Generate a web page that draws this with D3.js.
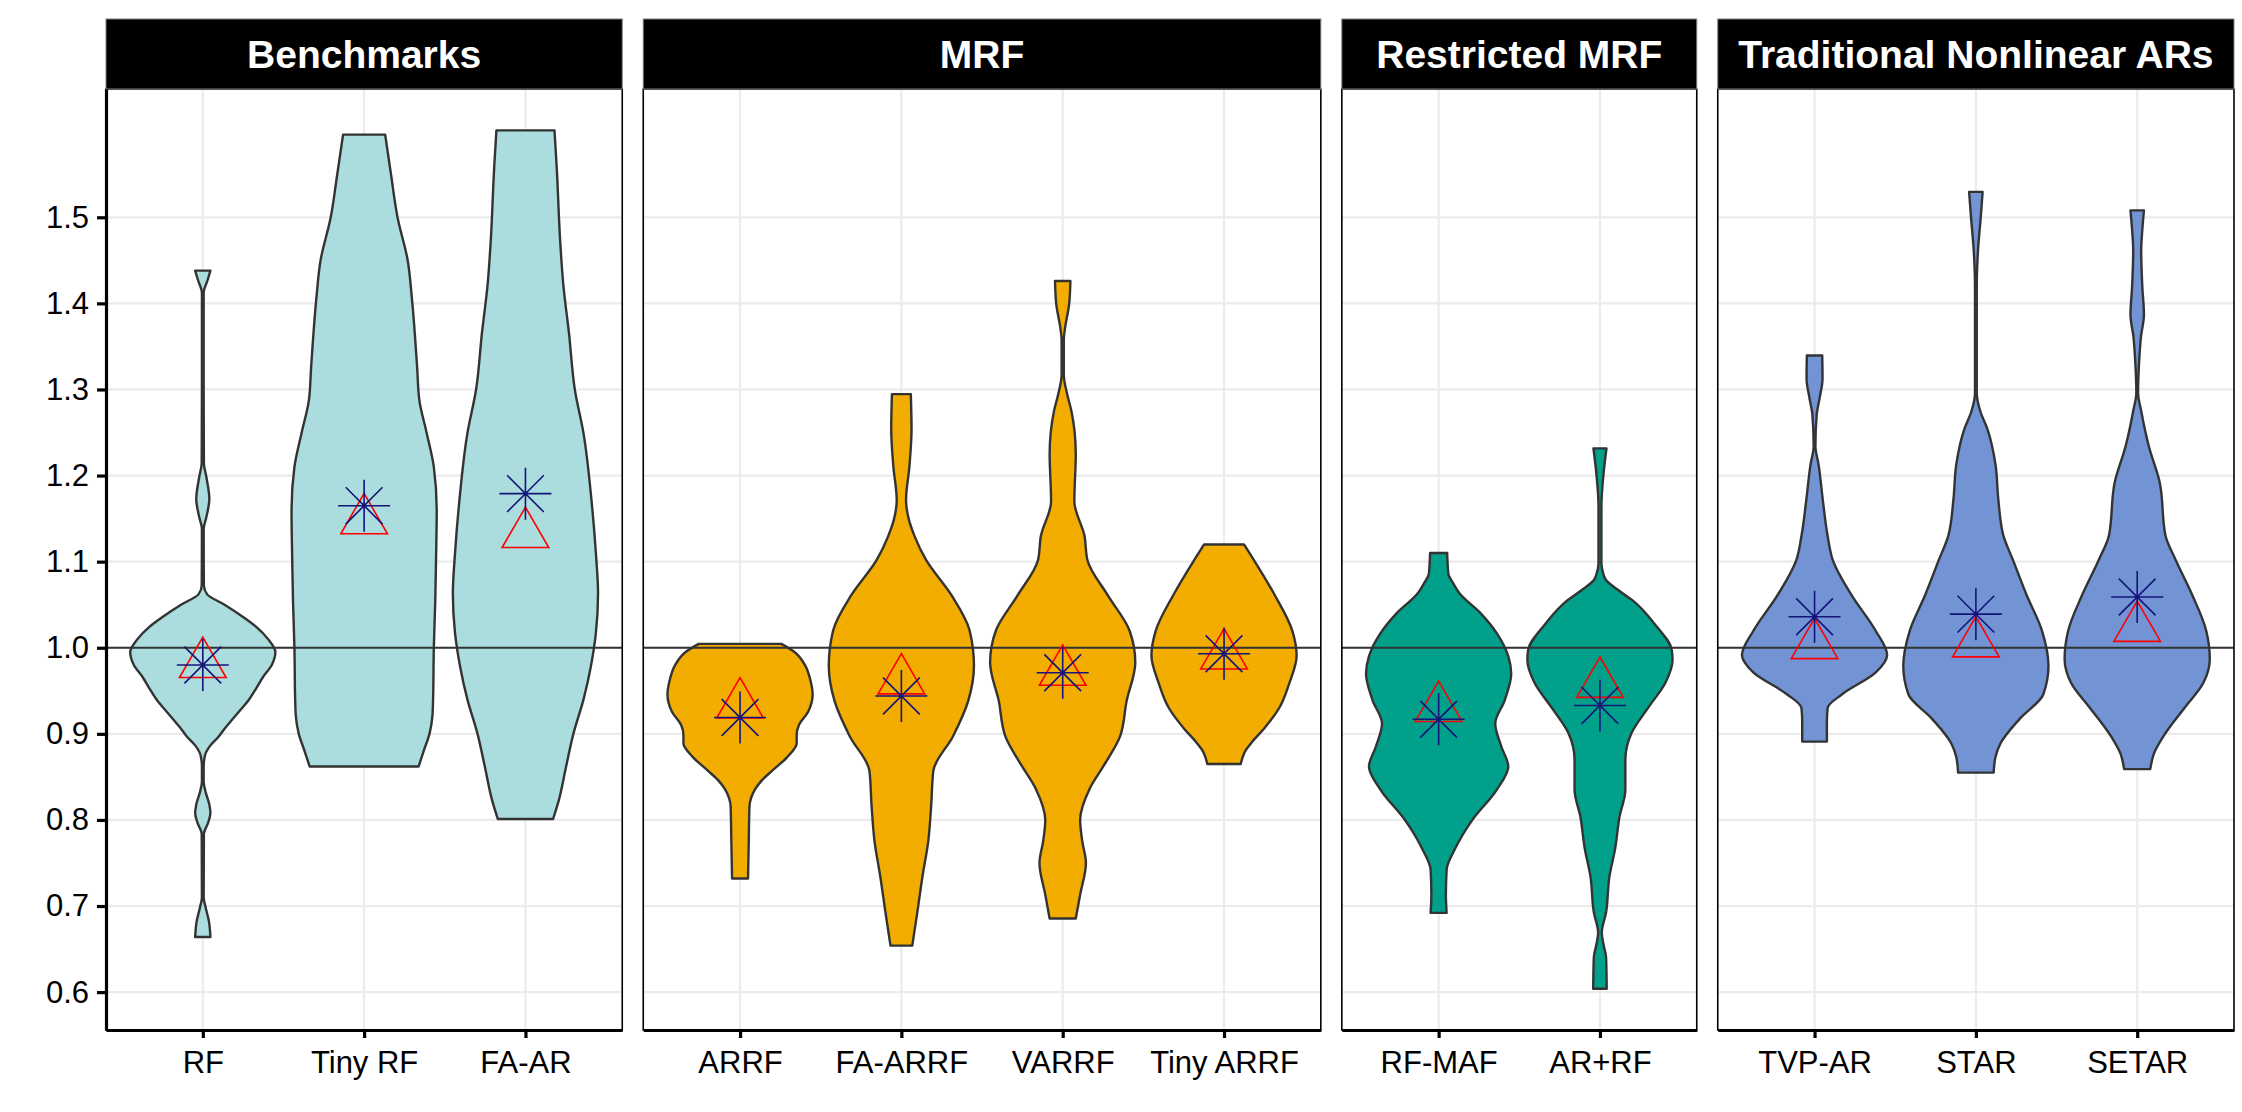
<!DOCTYPE html>
<html>
<head>
<meta charset="utf-8">
<script src="https://cdn.jsdelivr.net/npm/d3@7"></script>
<style>
  body { margin: 0; background: #fff; }
  text { font-family: "Liberation Sans", Arial, sans-serif; }
</style>
</head>
<body>
<svg id="chart" width="2242" height="1112"></svg>
<script>
// facets and the models inside each one
const panelNames = ["Benchmarks", "MRF", "Restricted MRF", "Traditional Nonlinear ARs"];
const panelModels = [
  ["RF", "Tiny RF", "FA-AR"],
  ["ARRF", "FA-ARRF", "VARRF", "Tiny ARRF"],
  ["RF-MAF", "AR+RF"],
  ["TVP-AR", "STAR", "SETAR"]
];
const panelFills = ["#ABDDDE", "#F2AD00", "#00A08A", "#7294D4"];
const yTicks = [0.6, 0.7, 0.8, 0.9, 1.0, 1.1, 1.2, 1.3, 1.4, 1.5];

// red triangle (mean) and navy asterisk (median), same order as the models
const models = ["RF", "Tiny RF", "FA-AR", "ARRF", "FA-ARRF", "VARRF", "Tiny ARRF",
                "RF-MAF", "AR+RF", "TVP-AR", "STAR", "SETAR"];
const triangleValues = [0.981, 1.148, 1.132, 0.934, 0.962, 0.972, 0.991, 0.930, 0.958, 1.003, 1.005, 1.023];
const starValues     = [0.980, 1.165, 1.179, 0.919, 0.944, 0.971, 0.993, 0.917, 0.933, 1.036, 1.039, 1.059];

// violin outlines: [value, relative half width], top to bottom
const rfDensity = [[1.438,0.105],[1.428,0.07],[1.412,0.012],[1.30,0.012],[1.215,0.015],[1.198,0.05],[1.173,0.09],
  [1.152,0.05],[1.138,0.012],[1.072,0.015],[1.062,0.06],[1.05,0.3],[1.036,0.55],[1.024,0.74],[1.01,0.9],[0.995,1.0],
  [0.98,0.95],[0.966,0.83],[0.952,0.73],[0.939,0.63],[0.926,0.5],[0.916,0.4],[0.906,0.3],[0.897,0.22],[0.886,0.1],
  [0.875,0.03],[0.862,0.012],[0.845,0.012],[0.832,0.04],[0.818,0.09],[0.808,0.105],[0.796,0.07],[0.784,0.015],
  [0.71,0.012],[0.698,0.04],[0.682,0.085],[0.664,0.105]];
const tinyRfDensity = [[1.596,0.29],[1.55,0.37],[1.5,0.46],[1.45,0.6],[1.404,0.66],[1.326,0.73],[1.288,0.76],
  [1.25,0.86],[1.21,0.96],[1.16,1.0],[1.1,0.99],[1.055,0.98],[1.0,0.96],[0.94,0.95],[0.92,0.94],[0.9,0.9],
  [0.88,0.82],[0.862,0.75]];
const faArDensity = [[1.601,0.40],[1.559,0.43],[1.47,0.48],[1.423,0.52],[1.365,0.6],[1.3,0.68],[1.249,0.8],
  [1.171,0.91],[1.11,0.97],[1.063,1.0],[1.017,0.97],[0.978,0.9],[0.94,0.8],[0.9,0.66],[0.862,0.56],[0.823,0.46],
  [0.801,0.38]];
const arrfDensity = [[1.0045,0.57],[0.995,0.75],[0.979,0.9],[0.962,0.97],[0.946,1.0],[0.926,0.94],[0.91,0.81],
  [0.899,0.78],[0.889,0.78],[0.873,0.65],[0.857,0.44],[0.846,0.3],[0.836,0.21],[0.825,0.15],[0.816,0.13],
  [0.775,0.12],[0.732,0.11]];
const faArrfDensity = [[1.2946,0.13],[1.254,0.14],[1.21,0.11],[1.1715,0.064],[1.15,0.1],[1.13,0.18],[1.102,0.34],
  [1.061,0.69],[1.02,0.94],[0.979,1.0],[0.938,0.92],[0.897,0.71],[0.857,0.44],[0.816,0.41],[0.775,0.37],
  [0.734,0.29],[0.693,0.22],[0.654,0.15]];
const varrfDensity = [[1.426,0.106],[1.4,0.09],[1.37,0.03],[1.358,0.015],[1.317,0.015],[1.295,0.06],[1.275,0.12],
  [1.225,0.18],[1.17,0.16],[1.13,0.3],[1.102,0.34],[1.061,0.62],[1.02,0.92],[0.983,1.0],[0.938,0.88],[0.897,0.79],
  [0.865,0.58],[0.836,0.37],[0.8,0.24],[0.775,0.27],[0.75,0.32],[0.713,0.24],[0.6855,0.18]];
const tinyArrfDensity = [[1.12,0.275],[1.102,0.41],[1.061,0.7],[1.02,0.94],[0.991,1.0],[0.959,0.9],[0.93,0.76],
  [0.906,0.55],[0.89,0.38],[0.881,0.3],[0.865,0.23]];
const rfMafDensity = [[1.110,0.118],[1.086,0.134],[1.075,0.2],[1.063,0.29],[1.04,0.58],[1.017,0.8],[0.99,0.96],
  [0.97,1.0],[0.939,0.91],[0.912,0.78],[0.885,0.865],[0.862,0.96],[0.835,0.8],[0.8,0.465],[0.767,0.23],
  [0.742,0.11],[0.713,0.1],[0.692,0.11]];
const arRfDensity = [[1.2316,0.09],[1.2025,0.05],[1.164,0.02],[1.098,0.02],[1.085,0.05],[1.079,0.08],[1.067,0.25],
  [1.055,0.45],[1.028,0.75],[0.997,0.99],[0.986,1.0],[0.959,0.9],[0.931,0.67],[0.9,0.43],[0.87,0.35],[0.835,0.35],
  [0.804,0.27],[0.767,0.21],[0.734,0.13],[0.693,0.085],[0.669,0.025],[0.655,0.05],[0.64,0.085],[0.604,0.093]];
const tvpArDensity = [[1.3395,0.106],[1.3125,0.11],[1.29,0.07],[1.271,0.03],[1.234,0.012],[1.213,0.055],
  [1.1715,0.114],[1.13,0.18],[1.102,0.25],[1.061,0.51],[1.02,0.84],[0.9915,1.0],[0.971,0.84],[0.946,0.38],
  [0.93,0.18],[0.914,0.17],[0.891,0.17]];
const starDensity = [[1.5295,0.093],[1.503,0.07],[1.462,0.03],[1.42,0.012],[1.296,0.012],[1.275,0.06],
  [1.2545,0.157],[1.213,0.27],[1.1715,0.31],[1.13,0.38],[1.102,0.51],[1.061,0.7],[1.02,0.91],[0.979,1.0],
  [0.946,0.93],[0.918,0.61],[0.889,0.34],[0.873,0.27],[0.855,0.245]];
const setarDensity = [[1.508,0.093],[1.485,0.07],[1.462,0.055],[1.42,0.07],[1.387,0.093],[1.36,0.05],[1.337,0.03],
  [1.296,0.012],[1.275,0.055],[1.234,0.16],[1.192,0.31],[1.13,0.39],[1.102,0.53],[1.061,0.76],[1.02,0.95],
  [0.987,1.0],[0.959,0.91],[0.93,0.65],[0.897,0.36],[0.877,0.23],[0.859,0.18]];

const densities = [rfDensity, tinyRfDensity, faArDensity, arrfDensity, faArrfDensity, varrfDensity,
  tinyArrfDensity, rfMafDensity, arRfDensity, tvpArDensity, starDensity, setarDensity];

const svg = d3.select("#chart");

const plotLeft = 106, plotRight = 2234, gap = 21;
const stripTop = 19, plotTop = 89, plotBottom = 1030;

const y = d3.scaleLinear().domain([0.556, 1.649]).range([plotBottom, plotTop]);

// free-space facets: width follows the number of categories (+0.6 each side)
const units = panelModels.map(m => m.length + 0.2);
const unit = (plotRight - plotLeft - gap * (panelModels.length - 1)) / d3.sum(units);

let px = plotLeft;
panelModels.forEach((ms, pi) => {
  const w = units[pi] * unit;
  const g = svg.append("g");

  const x = d3.scalePoint().domain(ms).range([px, px + w]).padding(0.6);
  const half = 0.45 * x.step();

  // grid
  g.selectAll(".gy").data(yTicks).enter().append("line")
    .attr("x1", px).attr("x2", px + w)
    .attr("y1", d => y(d)).attr("y2", d => y(d))
    .attr("stroke", "#ebebeb").attr("stroke-width", 2.2);
  g.selectAll(".gx").data(ms).enter().append("line")
    .attr("x1", d => x(d)).attr("x2", d => x(d))
    .attr("y1", plotTop).attr("y2", plotBottom)
    .attr("stroke", "#ebebeb").attr("stroke-width", 2.2);

  // violins
  ms.forEach(m => {
    const i = models.indexOf(m);
    const cx = x(m);
    const area = d3.area()
      .curve(d3.curveMonotoneY)
      .y(d => y(d[0]))
      .x0(d => cx - d[1] * half)
      .x1(d => cx + d[1] * half);
    g.append("path")
      .attr("d", area(densities[i]))
      .attr("fill", panelFills[pi])
      .attr("stroke", "#333333")
      .attr("stroke-width", 2.4)
      .attr("stroke-linejoin", "round");
  });

  // reference line at 1
  g.append("line")
    .attr("x1", px).attr("x2", px + w)
    .attr("y1", y(1)).attr("y2", y(1))
    .attr("stroke", "#333333").attr("stroke-width", 1.8);

  // markers
  ms.forEach(m => {
    const i = models.indexOf(m);
    const cx = x(m);
    const ty = y(triangleValues[i]);
    const s = 17.3;
    g.append("path")
      .attr("d", `M${cx},${ty - 1.555 * s}L${cx + 1.347 * s},${ty + 0.778 * s}L${cx - 1.347 * s},${ty + 0.778 * s}Z`)
      .attr("fill", "none").attr("stroke", "#ff0000").attr("stroke-width", 1.6);
    const sy = y(starValues[i]);
    const r = 26, d = r * Math.SQRT1_2;
    g.append("path")
      .attr("d", `M${cx - r},${sy}H${cx + r}M${cx},${sy - r}V${sy + r}` +
                 `M${cx - d},${sy - d}L${cx + d},${sy + d}M${cx - d},${sy + d}L${cx + d},${sy - d}`)
      .attr("fill", "none").attr("stroke", "#14147a").attr("stroke-width", 1.6);
  });

  // panel border
  g.append("rect")
    .attr("x", px).attr("y", plotTop).attr("width", w).attr("height", plotBottom - plotTop)
    .attr("fill", "none").attr("stroke", "#000").attr("stroke-width", 1.6);

  // strip
  g.append("rect")
    .attr("x", px).attr("y", stripTop).attr("width", w).attr("height", plotTop - stripTop)
    .attr("fill", "#000").attr("stroke", "#808080").attr("stroke-width", 1);
  g.append("text")
    .attr("x", px + w / 2).attr("y", (stripTop + plotTop) / 2).attr("dy", "0.35em")
    .attr("text-anchor", "middle").attr("fill", "#fff")
    .attr("font-size", 39).attr("font-weight", "bold")
    .text(panelNames[pi]);

  // x axis
  const ax = g.append("g").attr("transform", `translate(0,${plotBottom})`)
    .call(d3.axisBottom(x).tickSize(8).tickSizeOuter(0).tickPadding(13));
  ax.select(".domain").attr("stroke", "#000").attr("stroke-width", 3.2);
  ax.selectAll(".tick line").attr("stroke", "#000").attr("stroke-width", 3.2);
  ax.selectAll(".tick text").attr("font-size", 31).attr("fill", "#000")
    .attr("font-family", "Liberation Sans, Arial, sans-serif");

  // y axis only on the first facet
  if (pi === 0) {
    const ay = g.append("g").attr("transform", `translate(${px},0)`)
      .call(d3.axisLeft(y).tickValues(yTicks).tickFormat(d3.format(".1f"))
        .tickSize(9).tickSizeOuter(0).tickPadding(8));
    ay.select(".domain").attr("stroke", "#000").attr("stroke-width", 3.2);
    ay.selectAll(".tick line").attr("stroke", "#000").attr("stroke-width", 3.2);
    ay.selectAll(".tick text").attr("font-size", 31).attr("fill", "#000")
      .attr("font-family", "Liberation Sans, Arial, sans-serif");
  }

  px += w + gap;
});
</script>
</body>
</html>
